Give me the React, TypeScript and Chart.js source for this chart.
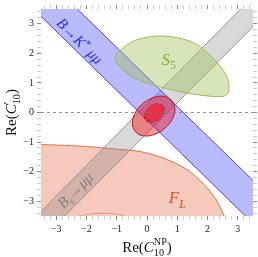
import React, { useEffect, useRef } from 'react';
import { Chart, registerables } from 'chart.js';

Chart.register(...registerables);

// ---- axes ----
const X_MIN = -3.5;
const X_MAX = 3.5;
const Y_MIN = -3.5;
const Y_MAX = 3.5;
const MAJOR_TICKS = [-3, -2, -1, 0, 1, 2, 3];
const TICK_LABELS = ['−3', '−2', '−1', '0', '1', '2', '3'];
const MINOR_TICKS = [-3.4, -3.2, -2.8, -2.6, -2.4, -2.2, -1.8, -1.6, -1.4, -1.2, -0.8, -0.6, -0.4, -0.2,
  0.2, 0.4, 0.6, 0.8, 1.2, 1.4, 1.6, 1.8, 2.2, 2.4, 2.6, 2.8, 3.2, 3.4];

// ---- regions (data coordinates) ----
const ZERO_LINE = [[-3.5, 0], [3.5, 0]];
const BK_BAND = [[-5, 6.2], [5, -3.8], [5, -5.25], [-5, 4.75], [-5, 6.2]];
const BS_BAND = [[-5, -4.91], [5, 5.49], [5, 4.45], [-5, -5.85], [-5, -4.91]];
const S5_REGION = [[-1.07, 1.74], [-1.01, 1.96], [-0.79, 2.18], [-0.34, 2.46], [0.49, 2.59], [1.43, 2.41],
  [1.99, 2.02], [2.32, 1.68], [2.6, 1.29], [2.7, 0.96], [2.68, 0.68], [2.53, 0.55], [2.1, 0.55],
  [1.21, 0.68], [0.1, 0.96], [-0.57, 1.24], [-1.07, 1.74]];
const FL_REGION = [[-3.8, -1.08], [-3.0, -1.1], [-2.0, -1.15], [-1.0, -1.24], [-0.23, -1.32], [0.54, -1.54],
  [1.32, -1.93], [1.88, -2.43], [2.27, -2.93], [2.49, -3.37], [2.58, -3.7], [-3.8, -3.7], [-3.8, -1.08]];
const FL_LOWER = [[-2.35, -3.55], [-2.0, -3.45], [-1.5, -3.41], [-1.0, -3.44], [-0.6, -3.55]];
const FIT_1SIGMA = [[0.52, 0.23], [0.40, 0.29], [0.24, 0.27], [0.07, 0.17], [-0.05, 0.01], [-0.09, -0.15],
  [-0.04, -0.27], [0.08, -0.33], [0.24, -0.31], [0.41, -0.21], [0.53, -0.05], [0.57, 0.11], [0.52, 0.23]];
const FIT_2SIGMA = [[0.81, 0.42], [0.55, 0.55], [0.20, 0.50], [-0.15, 0.29], [-0.40, -0.03], [-0.48, -0.38],
  [-0.37, -0.66], [-0.11, -0.79], [0.24, -0.74], [0.59, -0.53], [0.84, -0.21], [0.92, 0.14], [0.81, 0.42]];

// ---- text ----
type Part = { t: string; it?: boolean; k?: number; dy?: number };
type Item = Part[];
const X_TITLE: Item[] = [[{ t: 'Re(' }], [{ t: 'C', it: true }], [{ t: 'NP', k: 0.68, dy: -0.48 }, { t: '10', k: 0.68, dy: 0.28 }], [{ t: ')' }]];
const Y_TITLE: Item[] = [[{ t: 'Re(' }], [{ t: 'C', it: true }], [{ t: '′', k: 0.75, dy: -0.35 }, { t: '10', k: 0.68, dy: 0.28 }], [{ t: ')' }]];
const BK_LABEL: Item[] = [[{ t: 'B', it: true }], [{ t: '→' }], [{ t: 'K', it: true }], [{ t: '*', k: 0.7, dy: -0.35 }], [{ t: ' μμ', it: true }]];
const BS_LABEL: Item[] = [[{ t: 'B', it: true }], [{ t: 's', it: true, k: 0.7, dy: 0.25 }], [{ t: '→' }], [{ t: 'μμ', it: true }]];
const S5_LABEL: Item[] = [[{ t: 'S', it: true }], [{ t: '5', k: 0.7, dy: 0.25 }]];
const FL_LABEL: Item[] = [[{ t: 'F', it: true }], [{ t: 'L', it: true, k: 0.7, dy: 0.25 }]];
const LABEL_POS = { bk: [-2.22, 2.42], bs: [-2.37, -2.63], s5: [0.72, 1.8], fl: [1.0, -2.88] };

const FAMILY = '"Liberation Serif", "Times New Roman", serif';

const pts = (a: number[][]) => a.map(([x, y]) => ({ x, y }));

function drawRich(ctx: CanvasRenderingContext2D, items: Item[], size: number, color: string,
  x: number, y: number, angle: number, vCenter: boolean) {
  const fontOf = (p: Part) => `${p.it ? 'italic ' : ''}${(size * (p.k ?? 1)).toFixed(1)}px ${FAMILY}`;
  const widths = items.map((it) => Math.max(...it.map((p) => { ctx.font = fontOf(p); return ctx.measureText(p.t).width; })));
  const total = widths.reduce((a, b) => a + b, 0);
  ctx.save();
  ctx.translate(x, y);
  ctx.rotate(angle);
  ctx.fillStyle = color;
  ctx.textAlign = 'left';
  ctx.textBaseline = 'alphabetic';
  let cx = -total / 2;
  const base = vCenter ? size * 0.33 : 0;
  items.forEach((it, i) => {
    it.forEach((p) => { ctx.font = fontOf(p); ctx.fillText(p.t, cx, base + (p.dy ?? 0) * size); });
    cx += widths[i];
  });
  ctx.restore();
}

const textPlugin = {
  id: 'richTexts',
  afterDatasetsDraw(chart: any) {
    const { ctx, scales, chartArea } = chart;
    const px = (v: number) => scales.x.getPixelForValue(v);
    const py = (v: number) => scales.y.getPixelForValue(v);
    ctx.save();
    ctx.beginPath();
    ctx.rect(chartArea.left, chartArea.top, chartArea.right - chartArea.left, chartArea.bottom - chartArea.top);
    ctx.clip();
    drawRich(ctx, BK_LABEL, 15, 'rgb(40,40,235)', px(LABEL_POS.bk[0]), py(LABEL_POS.bk[1]), Math.PI / 4, true);
    drawRich(ctx, BS_LABEL, 15, 'rgb(125,125,125)', px(LABEL_POS.bs[0]), py(LABEL_POS.bs[1]), -Math.PI / 4, true);
    drawRich(ctx, S5_LABEL, 17, 'rgb(135,170,55)', px(LABEL_POS.s5[0]), py(LABEL_POS.s5[1]), 0, true);
    drawRich(ctx, FL_LABEL, 17, 'rgb(215,80,40)', px(LABEL_POS.fl[0]), py(LABEL_POS.fl[1]), 0, true);
    ctx.restore();
  },
  afterDraw(chart: any) {
    const { ctx, chartArea } = chart;
    const cx = (chartArea.left + chartArea.right) / 2;
    const cy = (chartArea.top + chartArea.bottom) / 2;
    drawRich(ctx, X_TITLE, 15, '#111', cx, 252, 0, false);
    drawRich(ctx, Y_TITLE, 15, '#111', 16, cy, -Math.PI / 2, false);
  },
};

function tickLabel(v: number) {
  const i = MAJOR_TICKS.findIndex((m) => Math.abs(m - v) < 1e-6);
  return i >= 0 ? TICK_LABELS[i] : '';
}

function allTicks() {
  return [...MAJOR_TICKS, ...MINOR_TICKS].sort((a, b) => a - b).map((value) => ({ value }));
}

const isMajor = (ctx: any) => MAJOR_TICKS.some((m) => Math.abs(m - (ctx.tick?.value ?? 99)) < 1e-6);

function axis(position: string, min: number, max: number, size: number, showLabels: boolean) {
  const horizontal = position === 'bottom' || position === 'top';
  return {
    type: 'linear',
    position,
    min,
    max,
    afterBuildTicks: (s: any) => { s.ticks = allTicks(); },
    afterFit: (s: any) => { if (horizontal) s.height = size; else s.width = size; },
    border: { display: false },
    grid: {
      drawOnChartArea: false,
      drawTicks: true,
      tickLength: 4,
      tickColor: (c: any) => (isMajor(c) ? '#8a8a8a' : '#d0d0d0'),
      tickWidth: 1,
    },
    ticks: {
      display: showLabels,
      autoSkip: false,
      maxRotation: 0,
      padding: 3,
      color: '#222',
      font: { family: FAMILY, size: 10 },
      callback: (v: any) => tickLabel(Number(v)),
    },
  };
}

export default function App() {
  const ref = useRef<HTMLCanvasElement>(null);
  useEffect(() => {
    if (!ref.current) return;
    const base = { showLine: true, pointRadius: 0, pointHoverRadius: 0, borderWidth: 1, tension: 0 };
    const chart = new Chart(ref.current, {
      type: 'scatter',
      data: {
        datasets: [
          { ...base, data: pts(ZERO_LINE), fill: false, borderColor: 'rgba(120,120,120,0.8)', borderDash: [3, 3] },
          { ...base, data: pts(FIT_1SIGMA), fill: 'shape', tension: 0.4, backgroundColor: 'rgba(255,0,0,0.5)', borderColor: 'rgb(190,20,20)', borderDash: [3, 2] },
          { ...base, data: pts(FIT_2SIGMA), fill: 'shape', tension: 0.4, backgroundColor: 'rgba(255,0,0,0.4)', borderColor: 'rgb(190,20,20)' },
          { ...base, data: pts(S5_REGION), fill: 'shape', tension: 0.3, backgroundColor: 'rgba(160,195,90,0.42)', borderColor: 'rgb(150,185,80)' },
          { ...base, data: pts(BK_BAND), fill: 'shape', backgroundColor: 'rgba(90,90,255,0.42)', borderColor: 'rgb(70,70,235)' },
          { ...base, data: pts(BS_BAND), fill: 'shape', backgroundColor: 'rgba(120,120,120,0.28)', borderColor: 'rgb(150,150,150)' },
          { ...base, data: pts(FL_LOWER), fill: false, tension: 0.4, borderColor: 'rgba(225,110,70,0.6)' },
          { ...base, data: pts(FL_REGION), fill: 'shape', tension: 0.3, backgroundColor: 'rgba(232,120,90,0.4)', borderColor: 'rgb(225,110,70)' },
        ],
      },
      options: {
        animation: false,
        responsive: false,
        devicePixelRatio: 1,
        layout: { padding: 0 },
        events: [],
        plugins: { legend: { display: false }, tooltip: { enabled: false }, title: { display: false } },
        scales: {
          x: axis('bottom', X_MIN, X_MAX, 41, true),
          x2: axis('top', X_MIN, X_MAX, 5, false),
          y: axis('left', Y_MIN, Y_MAX, 41, true),
          y2: axis('right', Y_MIN, Y_MAX, 5, false),
        },
      } as any,
      plugins: [textPlugin],
    } as any);
    return () => chart.destroy();
  }, []);
  return (
    <div style={{ position: 'absolute', left: 0, top: 0, width: 258, height: 257, background: '#fff' }}>
      <canvas ref={ref} width={258} height={257} style={{ display: 'block', width: 258, height: 257 }} />
    </div>
  );
}
